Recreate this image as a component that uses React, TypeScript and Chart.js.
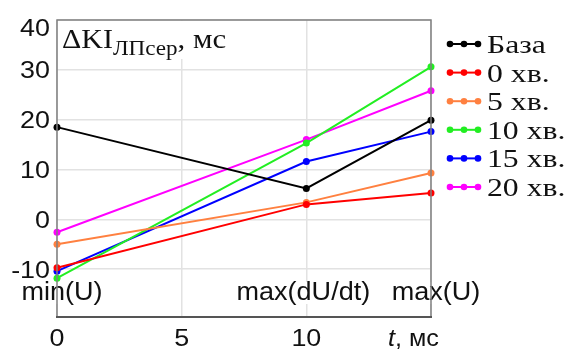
import React, { useEffect, useRef } from "react";
import { Chart, registerables } from "chart.js";

Chart.register(...registerables);

const xValues = [0, 10, 15];
const seriesNames = ["База", "0 хв.", "5 хв.", "10 хв.", "15 хв.", "20 хв."];
const seriesColors = ["#000000", "#ff0000", "#ff8040", "#22ee22", "#0000ff", "#ff00ff"];
const baza = [18.5, 6.2, 19.9];
const min0 = [-9.7, 3.0, 5.3];
const min5 = [-5.0, 3.4, 9.3];
const min10 = [-11.8, 15.3, 30.6];
const min15 = [-10.4, 11.6, 17.6];
const min20 = [-2.6, 16.0, 25.8];
const seriesValues = [baza, min0, min5, min10, min15, min20];
const yTicks = [-10, 0, 10, 20, 30, 40];
const xTicks = [0, 5, 10];
const pointLabels = ["min(U)", "max(dU/dt)", "max(U)"];
const xTitle = ", мс";
const yTitleMain = "ΔKI";
const yTitleSub = "ЛПсер";
const yTitleUnit = ", мс";

function drawText(ctx: CanvasRenderingContext2D, text: string, x: number, y: number, font: string, align: "left" | "right" | "center", sx: number, color = "#111") {
  ctx.save();
  ctx.font = font;
  ctx.fillStyle = color;
  ctx.textBaseline = "alphabetic";
  const w = ctx.measureText(text).width * sx;
  let left = x;
  if (align === "right") left = x - w;
  else if (align === "center") left = x - w / 2;
  ctx.translate(left, y);
  ctx.scale(sx, 1);
  ctx.textAlign = "left";
  ctx.fillText(text, 0, 0);
  ctx.restore();
  return w;
}

function measure(ctx: CanvasRenderingContext2D, text: string, font: string, sx: number) {
  ctx.save();
  ctx.font = font;
  const w = ctx.measureText(text).width * sx;
  ctx.restore();
  return w;
}

const decorPlugin = {
  id: "decor",
  afterDatasetsDraw(chart: any) {
    const ctx: CanvasRenderingContext2D = chart.ctx;
    const { left, right, top, bottom } = chart.chartArea;
    const xs = chart.scales.x;
    const ys = chart.scales.y;
    const sansFont = "24px 'Liberation Sans', Arial, sans-serif";
    const sansSx = 1.12;

    // point labels with white background
    const shifts = [5, -3, 5];
    pointLabels.forEach((lab, i) => {
      const cx = xs.getPixelForValue(xValues[i]) + shifts[i];
      const w = measure(ctx, lab, "26px 'Liberation Sans', Arial, sans-serif", 1.04);
      ctx.save();
      ctx.fillStyle = "#ffffff";
      ctx.fillRect(cx - w / 2 - 1, 282, w + 2, 22);
      ctx.restore();
      drawText(ctx, lab, cx, 300, "26px 'Liberation Sans', Arial, sans-serif", "center", 1.04);
    });

    // frame
    ctx.save();
    ctx.strokeStyle = "#808080";
    ctx.lineWidth = 1.5;
    ctx.beginPath();
    ctx.moveTo(left, bottom);
    ctx.lineTo(left, top);
    ctx.lineTo(right, top);
    ctx.lineTo(right, bottom);
    ctx.stroke();
    ctx.strokeStyle = "#555555";
    ctx.lineWidth = 2;
    ctx.beginPath();
    ctx.moveTo(left - 1, bottom);
    ctx.lineTo(right + 1, bottom);
    ctx.stroke();
    ctx.restore();

    // title box
    ctx.save();
    ctx.fillStyle = "#ffffff";
    ctx.fillRect(left + 1, top + 1, 178, 38);
    ctx.restore();
    const tMain = "28px 'Liberation Serif', 'Times New Roman', serif";
    const tSub = "21px 'Liberation Serif', 'Times New Roman', serif";
    let tx = 62;
    tx += drawText(ctx, yTitleMain, tx, 48, tMain, "left", 1.07);
    tx += drawText(ctx, yTitleSub, tx, 55, tSub, "left", 1.1);
    drawText(ctx, yTitleUnit, tx, 48, tMain, "left", 1.1);

    // y tick labels
    yTicks.forEach((v) => {
      let py = ys.getPixelForValue(v);
      if (py < top + 8) py = top + 7;
      drawText(ctx, String(v), 50, py + 8.5, sansFont, "right", sansSx);
    });

    // x tick labels
    xTicks.forEach((v) => {
      const px = xs.getPixelForValue(v);
      drawText(ctx, String(v), px, 346, sansFont, "center", sansSx);
    });
    // x title
    const tw = drawText(ctx, "t", 388, 346, "italic 24px 'Liberation Sans', Arial, sans-serif", "left", 1.05);
    drawText(ctx, xTitle, 388 + tw, 346, sansFont, "left", 1.05);

    // legend
    seriesNames.forEach((name, i) => {
      const y = 44 + i * 28.6;
      ctx.save();
      ctx.strokeStyle = seriesColors[i];
      ctx.fillStyle = seriesColors[i];
      ctx.lineWidth = 2;
      ctx.beginPath();
      ctx.moveTo(449, y);
      ctx.lineTo(478, y);
      ctx.stroke();
      [450, 464, 478].forEach((dx) => {
        ctx.beginPath();
        ctx.arc(dx, y, 3.3, 0, Math.PI * 2);
        ctx.fill();
      });
      ctx.restore();
      drawText(ctx, name, 487, y + 9, "26px 'Liberation Serif', 'Times New Roman', serif", "left", 1.22);
    });
  },
};

export default function App() {
  const ref = useRef<HTMLCanvasElement>(null);
  useEffect(() => {
    if (!ref.current) return;
    const chart = new Chart(ref.current, {
      type: "line",
      data: {
        datasets: seriesNames.map((name, i) => ({
          label: name,
          data: xValues.map((x, j) => ({ x, y: seriesValues[i][j] })),
          borderColor: seriesColors[i],
          backgroundColor: seriesColors[i],
          borderWidth: 2,
          pointRadius: 3.5,
          pointBorderWidth: 0,
          pointHoverRadius: 3.5,
          tension: 0,
          clip: false as any,
        })),
      },
      options: {
        responsive: false,
        animation: false,
        events: [],
        layout: { padding: { left: 57, top: 20, right: 135, bottom: 32 } },
        plugins: { legend: { display: false }, tooltip: { enabled: false } },
        scales: {
          x: {
            type: "linear",
            min: 0,
            max: 15,
            ticks: { display: false, stepSize: 5 },
            grid: { color: "#e2e2e2", lineWidth: 1.5, drawTicks: false },
            border: { display: false },
            afterFit: (s: any) => { s.height = 0; },
          },
          y: {
            type: "linear",
            min: -19.6,
            max: 40,
            afterBuildTicks: (s: any) => { s.ticks = yTicks.map((v) => ({ value: v })); },
            ticks: { display: false },
            grid: { color: "#e2e2e2", lineWidth: 1.5, drawTicks: false },
            border: { display: false },
            afterFit: (s: any) => { s.width = 0; },
          },
        },
      },
      plugins: [decorPlugin],
    });
    return () => chart.destroy();
  }, []);
  return (
    <div style={{ position: "absolute", left: 0, top: 0, width: 566, height: 349 }}>
      <canvas ref={ref} width={566} height={349} style={{ display: "block" }} />
    </div>
  );
}
